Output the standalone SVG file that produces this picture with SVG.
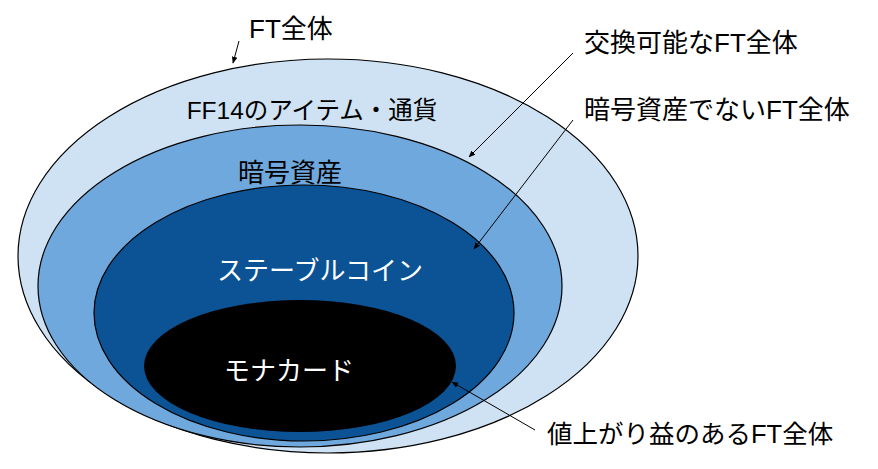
<svg xmlns="http://www.w3.org/2000/svg" width="878" height="469" viewBox="0 0 878 469">
<defs>
<marker id="ah" viewBox="0 0 10 10" refX="9" refY="5" markerWidth="7" markerHeight="7" markerUnits="userSpaceOnUse" orient="auto">
<path d="M0,1 L10,5 L0,9 z" fill="#000"/>
</marker>
</defs>
<style>
.e{stroke:#000;stroke-width:1.2}
.t{font-family:"Liberation Sans","Noto Sans CJK JP",sans-serif;font-size:26px}
.c{text-anchor:middle}
.w{fill:#fff}
.k{fill:#000}
.a{stroke:#000;stroke-width:1;fill:none;marker-end:url(#ah)}
</style>
<rect width="878" height="469" fill="#fff"/>
<g id="ft-all">
<ellipse class="e" cx="328" cy="256" rx="310" ry="197" fill="#cfe2f3"/>
<text class="t c k" x="312" y="119" style="font-size:24.5px">FF14のアイテム・通貨</text>
</g>
<g id="crypto">
<ellipse class="e" cx="300" cy="286" rx="262" ry="161" fill="#6fa8dc"/>
<text class="t c k" x="290" y="182">暗号資産</text>
</g>
<g id="stablecoin">
<ellipse class="e" cx="304" cy="313" rx="210" ry="128" fill="#0b5394"/>
<text class="t c w" x="320" y="280">ステーブルコイン</text>
</g>
<g id="monacard">
<ellipse cx="300" cy="366" rx="156" ry="66" fill="#000"/>
<text class="t c w" x="289" y="380">モナカード</text>
</g>
<g id="labels">
<text class="t k" x="249" y="38">FT全体</text>
<text class="t k" x="584" y="52">交換可能なFT全体</text>
<text class="t k" x="584" y="119">暗号資産でないFT全体</text>
<text class="t k" x="547" y="443" style="font-size:25.5px">値上がり益のあるFT全体</text>
</g>
<g id="connectors">
<line class="a" x1="239" y1="41" x2="233" y2="63"/>
<line class="a" x1="573" y1="53" x2="469" y2="157"/>
<line class="a" x1="573" y1="120" x2="474" y2="249"/>
<line class="a" x1="535" y1="430" x2="452" y2="382"/>
</g>
</svg>
